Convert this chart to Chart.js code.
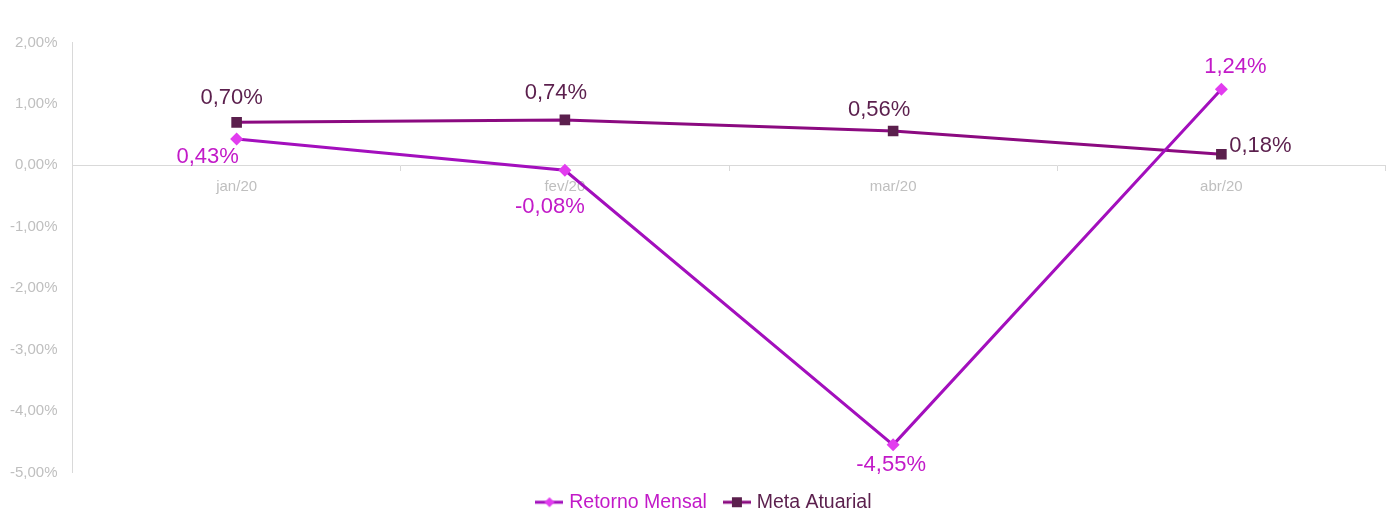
<!DOCTYPE html>
<html>
<head>
<meta charset="utf-8">
<script src="https://cdn.jsdelivr.net/npm/chart.js@4.4.1/dist/chart.umd.min.js"></script>
<style>
    html, body { margin: 0; padding: 0; background: #fff; overflow: hidden; }
    #chart_frame { width: 1386px; height: 510px; overflow: hidden; }
    #line_chart1_div { width: 1393px; height: 522px; }
    #line_chart1 { display: block; max-width: none !important; max-height: none !important; }
</style>
</head>
<body>
<div id="chart_frame"><div id="line_chart1_div"><canvas id="line_chart1" width="1393" height="522"></canvas></div></div>
<script>
const months = ["jan/20", "fev/20", "mar/20", "abr/20"];
const retorno_mensal = [0.43, -0.08, -4.55, 1.24];
const meta_atuarial = [0.70, 0.74, 0.56, 0.18];
const y_ticks = [-5, -4, -3, -2, -1, 0, 1, 2];

// where each value label sits, relative to its point (px)
const retorno_label_dx = [-29, -15, -2, 14];
const retorno_label_dy = [18, 37, 20, -22];
const meta_label_dx = [-5, -9, -14, 39];
const meta_label_dy = [-24, -27, -21, -8];

const font_family = "'Liberation Sans', Arial, sans-serif";

function pct(v) {
    return v.toFixed(2).replace(".", ",") + "%";
}

// small line + marker picture for the legend, like the Excel one
function legend_icon(line_color, marker_color, shape) {
    const c = document.createElement("canvas");
    c.width = 28;
    c.height = 12;
    const ctx = c.getContext("2d");
    ctx.strokeStyle = line_color;
    ctx.lineWidth = 3;
    ctx.beginPath();
    ctx.moveTo(0, 6);
    ctx.lineTo(28, 6);
    ctx.stroke();
    ctx.fillStyle = marker_color;
    if (shape === "diamond") {
        ctx.beginPath();
        ctx.moveTo(14, 1);
        ctx.lineTo(19, 6);
        ctx.lineTo(14, 11);
        ctx.lineTo(9, 6);
        ctx.closePath();
        ctx.fill();
    } else {
        ctx.fillRect(9, 1, 10, 10);
    }
    return c;
}

const value_labels = {
    id: "value_labels",
    afterDatasetsDraw(chart) {
        const ctx = chart.ctx;
        const offsets = [
            [retorno_label_dx, retorno_label_dy, "#c21ac8"],
            [meta_label_dx, meta_label_dy, "#5b1f4d"]
        ];
        ctx.save();
        ctx.font = "22px " + font_family;
        ctx.textAlign = "center";
        ctx.textBaseline = "middle";
        chart.data.datasets.forEach((ds, di) => {
            const meta = chart.getDatasetMeta(di);
            ctx.fillStyle = offsets[di][2];
            meta.data.forEach((pt, i) => {
                ctx.fillText(pct(ds.data[i]), pt.x + offsets[di][0][i], pt.y + offsets[di][1][i]);
            });
        });
        ctx.restore();
    }
};

// legend sits a bit right of the canvas centre in the original
const legend_shift = {
    id: "legend_shift",
    afterLayout(chart) {
        chart.legend.left += 18;
    }
};

new Chart(document.getElementById("line_chart1"), {
    type: "line",
    data: {
        labels: months,
        datasets: [
            {
                label: "Retorno Mensal",
                data: retorno_mensal,
                borderColor: "#a30fbd",
                borderWidth: 3,
                pointStyle: "rectRot",
                pointRadius: 6.5,
                pointBackgroundColor: "#e23cef",
                pointBorderColor: "#e23cef",
                pointBorderWidth: 0,
                tension: 0
            },
            {
                label: "Meta Atuarial",
                data: meta_atuarial,
                borderColor: "#8b0a80",
                borderWidth: 3,
                pointStyle: "rect",
                pointRadius: 7.5,
                pointBackgroundColor: "#5b1f4d",
                pointBorderColor: "#5b1f4d",
                pointBorderWidth: 0,
                tension: 0
            }
        ]
    },
    options: {
        responsive: false,
        animation: false,
        events: [],
        layout: { padding: { left: 0, top: 42.5, right: 0, bottom: 0 } },
        scales: {
            x: {
                position: { y: 0 },
                offset: true,
                afterFit: (scale) => { scale.paddingLeft = 0; scale.paddingRight = 0; },
                grid: { offset: true, drawOnChartArea: false, drawTicks: true, tickLength: 5, color: "#d9d9d9" },
                border: { display: true, color: "#d9d9d9", width: 1 },
                ticks: { color: "#bfbfbf", font: { size: 15, family: font_family }, padding: 8 }
            },
            y: {
                min: y_ticks[0],
                max: y_ticks[y_ticks.length - 1],
                afterBuildTicks: (scale) => { scale.ticks = y_ticks.map(v => ({ value: v })); },
                afterFit: (scale) => { scale.width = 72.5; },
                grid: { display: false, drawTicks: false },
                border: { display: true, color: "#d9d9d9", width: 1 },
                ticks: {
                    color: "#bfbfbf",
                    font: { size: 15, family: font_family },
                    padding: 15,
                    callback: (v) => pct(v)
                }
            }
        },
        plugins: {
            tooltip: { enabled: false },
            legend: {
                position: "bottom",
                labels: {
                    usePointStyle: true,
                    pointStyleWidth: 20,
                    padding: 20,
                    font: { size: 19.5, family: font_family },
                    generateLabels: function (chart) {
                        return [
                            { text: "Retorno Mensal", fontColor: "#c21ac8", pointStyle: legend_icon("#a30fbd", "#e23cef", "diamond"), lineWidth: 0, strokeStyle: "transparent", fillStyle: "transparent", datasetIndex: 0, hidden: false },
                            { text: "Meta Atuarial", fontColor: "#5b1f4d", pointStyle: legend_icon("#8b0a80", "#5b1f4d", "square"), lineWidth: 0, strokeStyle: "transparent", fillStyle: "transparent", datasetIndex: 1, hidden: false }
                        ];
                    }
                }
            }
        }
    },
    plugins: [value_labels, legend_shift]
});
</script>
</body>
</html>
